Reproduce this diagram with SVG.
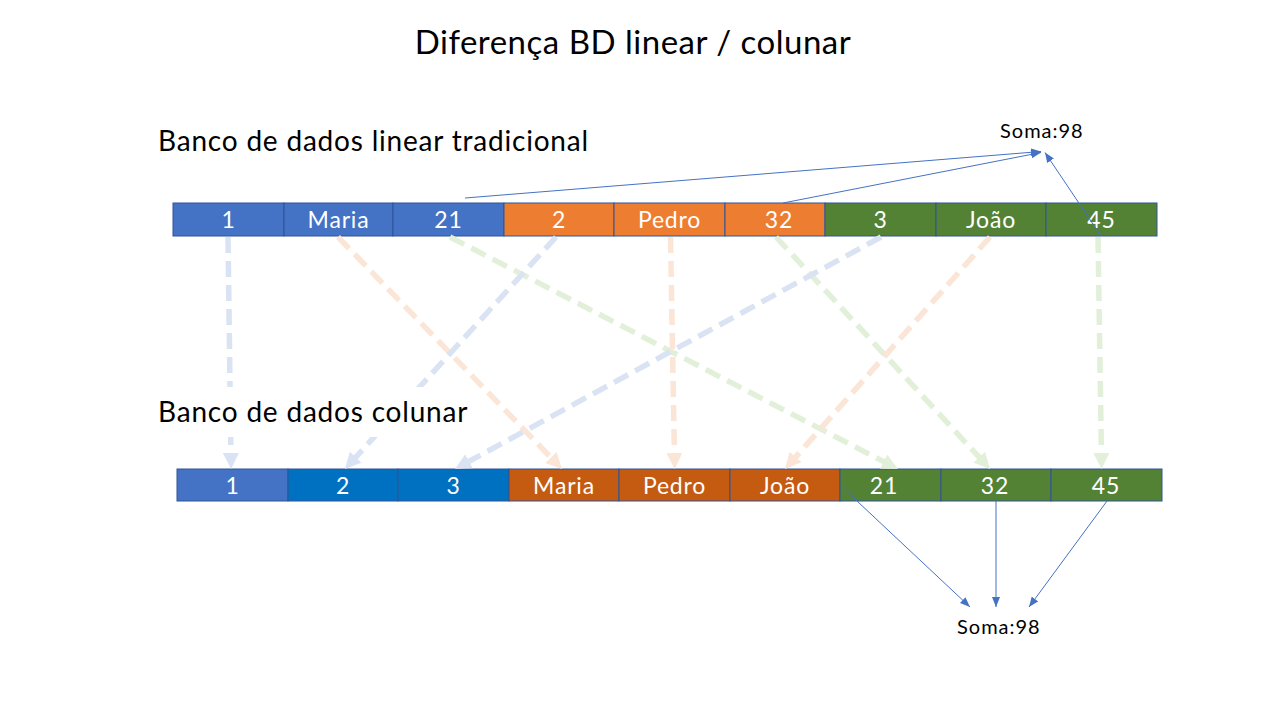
<svg xmlns="http://www.w3.org/2000/svg" width="1280" height="720" viewBox="0 0 1280 720">
<style>
  text { font-family: Lato, "Open Sans", "Liberation Sans", sans-serif; }
  .title { font-size: 33px; letter-spacing: 0.5px; fill: #000; }
  .heading { font-size: 28px; letter-spacing: 0.8px; fill: #000; }
  .soma { font-size: 20px; letter-spacing: 1px; fill: #000; }
  .cell rect { stroke: #2F5597; stroke-width: 1; }
  .cell text { font-size: 23px; letter-spacing: 0.8px; fill: #fff; text-anchor: middle; }
  .blue { fill: #4472C4; }
  .dblue { fill: #0070C0; }
  .orange { fill: #ED7D31; }
  .dorange { fill: #C55A11; }
  .green { fill: #548235; }
  .dash { fill: none; stroke-width: 5.5; stroke-dasharray: 16 8; }
  .dash-b { stroke: #DAE3F3; marker-end: url(#ah-b); }
  .dash-o { stroke: #FBE5D6; marker-end: url(#ah-o); }
  .dash-g { stroke: #E2F0D9; marker-end: url(#ah-g); }
  .sum { fill: none; stroke: #4472C4; stroke-width: 1; marker-end: url(#ah-s); }
</style>
<defs>
  <marker id="ah-b" markerUnits="userSpaceOnUse" viewBox="0 0 16 16" refX="6" refY="8" markerWidth="16" markerHeight="16" orient="auto"><path d="M0,0 L16,8 L0,16 z" fill="#DAE3F3"/></marker>
  <marker id="ah-o" markerUnits="userSpaceOnUse" viewBox="0 0 16 16" refX="6" refY="8" markerWidth="16" markerHeight="16" orient="auto"><path d="M0,0 L16,8 L0,16 z" fill="#FBE5D6"/></marker>
  <marker id="ah-g" markerUnits="userSpaceOnUse" viewBox="0 0 16 16" refX="6" refY="8" markerWidth="16" markerHeight="16" orient="auto"><path d="M0,0 L16,8 L0,16 z" fill="#E2F0D9"/></marker>
  <marker id="ah-s" markerUnits="userSpaceOnUse" viewBox="0 0 10 8" refX="10" refY="4" markerWidth="10" markerHeight="8" orient="auto"><path d="M0,0 L10,4 L0,8 z" fill="#4472C4"/></marker>
</defs>
<rect width="1280" height="720" fill="#fff"/>

<text class="title" x="633" y="54" text-anchor="middle">Diferença BD linear / colunar</text>
<text class="heading" x="158" y="151">Banco de dados linear tradicional</text>

<!-- Top row (linear) -->
<g id="top-row">
  <g id="t-1" class="cell"><rect class="blue" x="173" y="203" width="111" height="33"/><text x="228.5" y="227.5">1</text></g>
  <g id="t-maria" class="cell"><rect class="blue" x="284" y="203" width="109" height="33"/><text x="338.5" y="227.5">Maria</text></g>
  <g id="t-21" class="cell"><rect class="blue" x="393" y="203" width="111" height="33"/><text x="448.5" y="227.5">21</text></g>
  <g id="t-2" class="cell"><rect class="orange" x="504" y="203" width="110" height="33"/><text x="559" y="227.5">2</text></g>
  <g id="t-pedro" class="cell"><rect class="orange" x="614" y="203" width="111" height="33"/><text x="669.5" y="227.5">Pedro</text></g>
  <g id="t-32" class="cell"><rect class="orange" x="725" y="203" width="100" height="33"/><text x="779" y="227.5">32</text></g>
  <g id="t-3" class="cell"><rect class="green" x="825" y="203" width="111" height="33"/><text x="880.5" y="227.5">3</text></g>
  <g id="t-joao" class="cell"><rect class="green" x="936" y="203" width="110" height="33"/><text x="991" y="227.5">João</text></g>
  <g id="t-45" class="cell"><rect class="green" x="1046" y="203" width="111" height="33"/><text x="1101.5" y="227.5">45</text></g>
</g>

<!-- Bottom row (columnar) -->
<g id="bottom-row">
  <g id="b-1" class="cell"><rect class="blue" x="177" y="469" width="111" height="32"/><text x="232.5" y="493.5">1</text></g>
  <g id="b-2" class="cell"><rect class="dblue" x="288" y="469" width="110" height="32"/><text x="343" y="493.5">2</text></g>
  <g id="b-3" class="cell"><rect class="dblue" x="398" y="469" width="111" height="32"/><text x="453.5" y="493.5">3</text></g>
  <g id="b-maria" class="cell"><rect class="dorange" x="509" y="469" width="110" height="32"/><text x="564" y="493.5">Maria</text></g>
  <g id="b-pedro" class="cell"><rect class="dorange" x="619" y="469" width="111" height="32"/><text x="674.5" y="493.5">Pedro</text></g>
  <g id="b-joao" class="cell"><rect class="dorange" x="730" y="469" width="110" height="32"/><text x="785" y="493.5">João</text></g>
  <g id="b-21" class="cell"><rect class="green" x="840" y="469" width="101" height="32"/><text x="884" y="493.5">21</text></g>
  <g id="b-32" class="cell"><rect class="green" x="941" y="469" width="110" height="32"/><text x="995" y="493.5">32</text></g>
  <g id="b-45" class="cell"><rect class="green" x="1051" y="469" width="111" height="32"/><text x="1106" y="493.5">45</text></g>
</g>

<g id="soma-top"><text class="soma" x="1000" y="138">Soma:98</text></g>
<g id="soma-bottom"><text class="soma" x="957" y="634">Soma:98</text></g>

<!-- Connectors -->
<g id="connectors">
  <path class="dash dash-b" d="M228,237 L231,459"/>
  <path class="dash dash-o" d="M338,237 L555,461.8"/>
  <path class="dash dash-g" d="M450,237 L889,464.4"/>
  <path class="dash dash-b" d="M556,237 L351.7,461.6"/>
  <path class="dash dash-o" d="M670.5,237 L674.5,459"/>
  <path class="dash dash-g" d="M776,237 L983.2,461.6"/>
  <path class="dash dash-b" d="M881,237 L463.8,464.2"/>
  <path class="dash dash-o" d="M990,237 L791.6,461.5"/>
  <path class="dash dash-g" d="M1098,237 L1101.5,459"/>

  <path class="sum" d="M465,198 L1041,151.5"/>
  <path class="sum" d="M783,203 L1041,152.5"/>
  <path class="sum" d="M1101,236 L1045,152.5"/>

  <path class="sum" d="M841,486 L970,607"/>
  <path class="sum" d="M996,501 L996,607"/>
  <path class="sum" d="M1107,501 L1029,607"/>
</g>

<g id="heading-colunar">
  <rect x="150" y="387" width="318" height="50" fill="#fff"/>
  <text class="heading" x="158" y="422">Banco de dados colunar</text>
</g>
</svg>
